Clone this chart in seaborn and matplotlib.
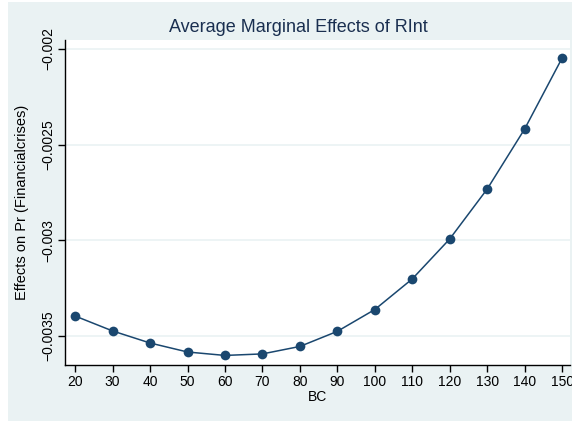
import matplotlib
matplotlib.use("Agg")
import matplotlib.pyplot as plt
import seaborn as sns
import pandas as pd
from matplotlib.patches import Rectangle

# values
bc_levels = [20, 30, 40, 50, 60, 70, 80, 90, 100, 110, 120, 130, 140, 150]
marginal_effects = [-0.003396, -0.003474, -0.003537, -0.003584, -0.003602,
                    -0.003594, -0.003555, -0.003476, -0.003362, -0.003202,
                    -0.002993, -0.002732, -0.002418, -0.002047]
y_ticks = [-0.002, -0.0025, -0.003, -0.0035]
y_tick_labels = ["\u22120.002", "\u22120.0025", "\u22120.003", "\u22120.0035"]

df = pd.DataFrame({"BC": bc_levels, "effect": marginal_effects})

sns.set_theme(style="white")
plt.rcParams["font.family"] = ["Liberation Sans", "DejaVu Sans"]

bg = "#eaf2f3"
navy = "#1a476f"

fig = plt.figure(figsize=(5.72, 4.21), dpi=100)
fig.patch.set_facecolor("white")
fig.patches.append(Rectangle((8 / 572, 0), 1 - 8 / 572, 1 - 2 / 421,
                             transform=fig.transFigure, facecolor=bg,
                             edgecolor="none", zorder=-10))

ax = fig.add_axes([65 / 572, 1 - 365 / 421, 505 / 572, 325 / 421])
ax.set_facecolor("white")

sns.lineplot(data=df, x="BC", y="effect", ax=ax, color=navy, linewidth=1.1,
             marker="o", markersize=7, markeredgewidth=0, markerfacecolor=navy)

ax.set_xlim(17.3, 152.1)
ax.set_ylim(-0.003652, -0.001953)
ax.set_xticks(bc_levels)
ax.set_yticks(y_ticks)
ax.set_yticklabels(y_tick_labels, rotation=90, va="center")

ax.yaxis.grid(True, color=bg, linewidth=1.2)
ax.xaxis.grid(False)
ax.set_axisbelow(True)

for side in ["top", "right"]:
    ax.spines[side].set_visible(False)
for side in ["left", "bottom"]:
    ax.spines[side].set_color("#000000")
    ax.spines[side].set_linewidth(1.0)

ax.tick_params(axis="both", which="major", direction="out", length=5,
               width=1.0, color="#000000", labelsize=10, labelcolor="#000000",
               left=True, bottom=True)
ax.tick_params(axis="x", pad=2)
ax.tick_params(axis="y", pad=2)

ax.set_xlabel("BC", fontsize=10, color="#000000", labelpad=1)
ax.set_ylabel("Effects on Pr (Financialcrises)", fontsize=10.5, color="#000000",
              labelpad=9)

fig.text(298 / 572, 1 - 27 / 421, "Average Marginal Effects of RInt",
         ha="center", va="center", fontsize=13, color="#1a2f50")

fig.savefig("out.png", dpi=100, facecolor=fig.get_facecolor())
